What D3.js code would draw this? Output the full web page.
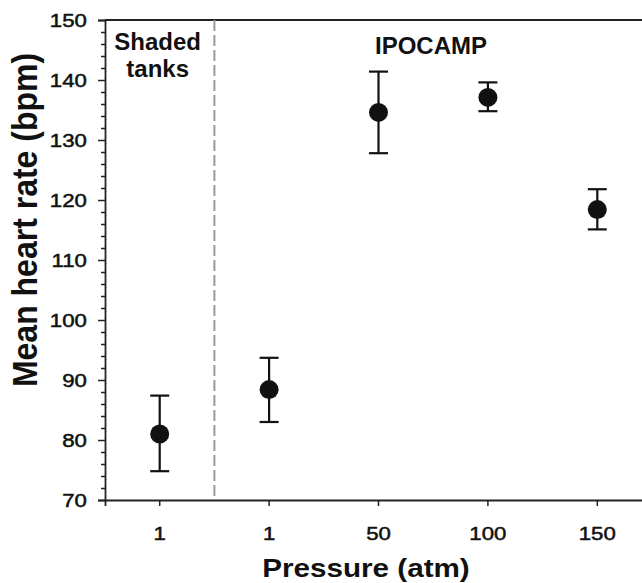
<!DOCTYPE html>
<html>
<head>
<meta charset="utf-8">
<script src="https://cdn.jsdelivr.net/npm/d3@7"></script>
<style>
  body { margin: 0; background: #fff; }
  text { font-family: "Liberation Sans", Arial, sans-serif; fill: #111; }
</style>
</head>
<body>
<div class="chart"></div>
<script>
var svgWidth = 642;
var svgHeight = 583;

var margin = {
  top: 20,
  right: -10,
  bottom: 83,
  left: 105
};

var width = svgWidth - margin.left - margin.right;
var height = svgHeight - margin.top - margin.bottom;

// chart data
var groupIds = ["shaded-1", "ipocamp-1", "ipocamp-50", "ipocamp-100", "ipocamp-150"];
var pressureLabels = ["1", "1", "50", "100", "150"];
var meanRate = [81.0, 88.4, 134.6, 137.1, 118.4];
var errUpper = [87.4, 93.7, 141.4, 139.6, 121.8];
var errLower = [74.8, 83.0, 127.8, 134.8, 115.1];
var yMajorTicks = [70, 80, 90, 100, 110, 120, 130, 140, 150];
var sectionLabels = ["Shaded tanks", "IPOCAMP"];

var svg = d3
  .select(".chart")
  .append("svg")
  .attr("width", svgWidth)
  .attr("height", svgHeight);

var chartGroup = svg.append("g")
  .attr("transform", `translate(${margin.left}, ${margin.top})`);

// scales
var xBandScale = d3.scaleBand()
  .domain(groupIds)
  .range([0, width])
  .padding(0);

var yLinearScale = d3.scaleLinear()
  .domain([70, 150])
  .range([height, 0]);

var xCenter = d => xBandScale(d) + xBandScale.bandwidth() / 2;

// minor y ticks every 2 bpm
var yMinorTicks = d3.range(70, 151, 2).filter(v => v % 10 !== 0);

chartGroup.append("g")
  .attr("class", "minor")
  .call(d3.axisLeft(yLinearScale).tickValues(yMinorTicks).tickSize(4).tickFormat(""))
  .call(g => g.select(".domain").remove())
  .selectAll("line")
  .attr("stroke", "#222")
  .attr("stroke-width", 1.5);

// major y axis
var leftAxis = d3.axisLeft(yLinearScale)
  .tickValues(yMajorTicks)
  .tickSize(7);

var yAxis = chartGroup.append("g")
  .call(leftAxis);

yAxis.select(".domain")
  .attr("stroke", "#222")
  .attr("stroke-width", 1.8);
yAxis.selectAll(".tick line")
  .attr("stroke", "#222")
  .attr("stroke-width", 1.5);
yAxis.selectAll(".tick text")
  .attr("x", -15.5)
  .attr("font-size", "19px")
  .attr("transform", "scale(1.17,1)")
  .style("font-family", "'Liberation Sans', Arial, sans-serif")
  .style("stroke", "#111")
  .style("stroke-width", 0.5)
  .attr("fill", "#111");

// x axis
var bottomAxis = d3.axisBottom(xBandScale)
  .tickSize(6)
  .tickFormat((d, i) => pressureLabels[i]);

var xAxis = chartGroup.append("g")
  .attr("transform", `translate(0, ${height})`)
  .call(bottomAxis);

xAxis.select(".domain")
  .attr("stroke", "#222")
  .attr("stroke-width", 1.8);
xAxis.selectAll(".tick line")
  .attr("stroke", "#222")
  .attr("stroke-width", 1.5);
xAxis.selectAll(".tick text")
  .attr("x", 0)
  .attr("y", 40)
  .attr("dy", 0)
  .attr("font-size", "19px")
  .attr("transform", "scale(1.17,1)")
  .style("font-family", "'Liberation Sans', Arial, sans-serif")
  .style("stroke", "#111")
  .style("stroke-width", 0.5)
  .attr("fill", "#111");

// top frame line
chartGroup.append("line")
  .attr("x1", 0)
  .attr("x2", width)
  .attr("y1", 0)
  .attr("y2", 0)
  .attr("stroke", "#222")
  .attr("stroke-width", 1.8);

// dashed divider between the two setups
var dividerX = xBandScale(groupIds[1]);
chartGroup.append("line")
  .attr("x1", dividerX)
  .attr("x2", dividerX)
  .attr("y1", 0)
  .attr("y2", height)
  .attr("stroke", "#9a9a9a")
  .attr("stroke-width", 2)
  .attr("stroke-dasharray", "11,4");

// error bars
var capHalf = 9.5;
var errGroup = chartGroup.selectAll(".err")
  .data(groupIds)
  .enter()
  .append("g")
  .attr("class", "err")
  .attr("stroke", "#111")
  .attr("stroke-width", 2.2);

errGroup.append("line")
  .attr("x1", d => xCenter(d))
  .attr("x2", d => xCenter(d))
  .attr("y1", (d, i) => yLinearScale(errUpper[i]))
  .attr("y2", (d, i) => yLinearScale(errLower[i]));

errGroup.append("line")
  .attr("x1", d => xCenter(d) - capHalf)
  .attr("x2", d => xCenter(d) + capHalf)
  .attr("y1", (d, i) => yLinearScale(errUpper[i]))
  .attr("y2", (d, i) => yLinearScale(errUpper[i]));

errGroup.append("line")
  .attr("x1", d => xCenter(d) - capHalf)
  .attr("x2", d => xCenter(d) + capHalf)
  .attr("y1", (d, i) => yLinearScale(errLower[i]))
  .attr("y2", (d, i) => yLinearScale(errLower[i]));

// mean markers
chartGroup.selectAll(".dot")
  .data(groupIds)
  .enter()
  .append("circle")
  .attr("class", "dot")
  .attr("cx", d => xCenter(d))
  .attr("cy", (d, i) => yLinearScale(meanRate[i]))
  .attr("r", 9.5)
  .attr("fill", "#111");

// section labels
var shadedWords = sectionLabels[0].split(" ");
chartGroup.append("text")
  .attr("x", xCenter(groupIds[0]) - 2)
  .attr("y", 30)
  .attr("text-anchor", "middle")
  .attr("font-size", "24px")
  .attr("font-weight", "bold")
  .text(shadedWords[0]);

chartGroup.append("text")
  .attr("x", xCenter(groupIds[0]) - 2)
  .attr("y", 57)
  .attr("text-anchor", "middle")
  .attr("font-size", "24px")
  .attr("font-weight", "bold")
  .text(shadedWords[1]);

chartGroup.append("text")
  .attr("x", 326)
  .attr("y", 34)
  .attr("text-anchor", "middle")
  .attr("font-size", "24px")
  .attr("font-weight", "bold")
  .text(sectionLabels[1]);

// axis titles
svg.append("text")
  .attr("transform", "translate(37, 220) scale(1.1,1) rotate(-90)")
  .attr("text-anchor", "middle")
  .attr("font-size", "32px")
  .attr("font-weight", "bold")
  .text("Mean heart rate (bpm)");

svg.append("text")
  .attr("transform", "translate(366, 577) scale(1.14,1)")
  .attr("text-anchor", "middle")
  .attr("font-size", "26px")
  .attr("font-weight", "bold")
  .text("Pressure (atm)");
</script>
</body>
</html>
